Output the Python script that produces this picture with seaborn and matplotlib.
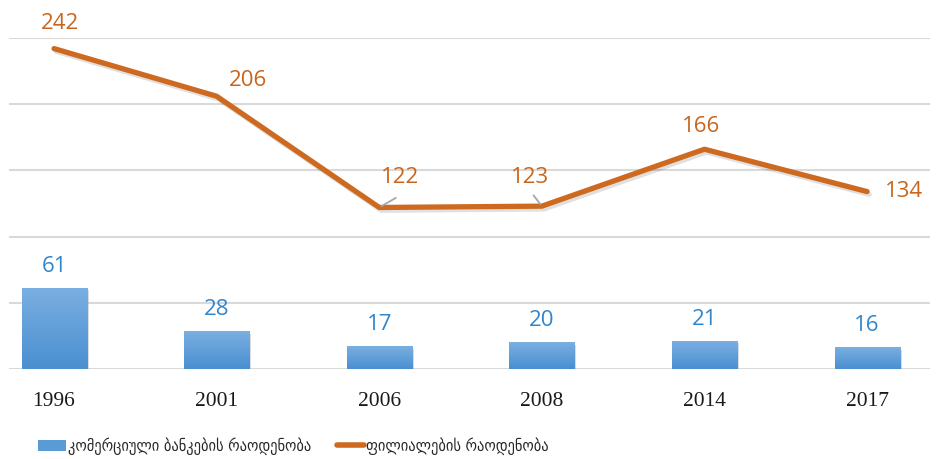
import numpy as np
import pandas as pd
import seaborn as sns
import matplotlib.pyplot as plt
import matplotlib.patheffects as pe
from matplotlib.colors import LinearSegmentedColormap
from matplotlib.patches import Patch
from matplotlib.lines import Line2D

# dados
anos = ["1996", "2001", "2006", "2008", "2014", "2017"]
bancos = [61, 28, 17, 20, 21, 16]
filiais = [242, 206, 122, 123, 166, 134]
nome_bancos = "კომერციული ბანკების რაოდენობა"
nome_filiais = "ფილიალების რაოდენობა"

cor_barra = "#5B9BD5"
cor_linha = "#CD6A1F"
cor_txt_barra = "#2F86CC"
cor_txt_linha = "#C8651B"

df = pd.DataFrame({"ano": anos, "bancos": bancos, "filiais": filiais})
df["pos"] = np.arange(len(anos))

sns.set_style("white")
fig = plt.figure(figsize=(9.36, 4.59), dpi=100)
ax = fig.add_axes([9 / 936, 90 / 459, 921 / 936, 331 / 459])

sns.barplot(data=df, x="ano", y="bancos", color=cor_barra, width=0.4,
            saturation=1, ax=ax, zorder=3)

# gradiente nas barras
cmap = LinearSegmentedColormap.from_list("azul", ["#4A8FD1", "#7AAFE1"])
grad = np.linspace(0, 1, 100).reshape(-1, 1)
for p in ax.patches:
    x0, w, h = p.get_x(), p.get_width(), p.get_height()
    p.set_path_effects([pe.SimplePatchShadow(offset=(1.5, -1.5), alpha=0.2), pe.Normal()])
    ax.imshow(grad, extent=[x0, x0 + w, 0, h], origin="lower", cmap=cmap,
              aspect="auto", zorder=3.5, interpolation="bilinear")

sns.lineplot(data=df, x="pos", y="filiais", color=cor_linha, linewidth=3.8,
             sort=False, ax=ax, zorder=4,
             path_effects=[pe.SimpleLineShadow(offset=(1.5, -2), alpha=0.12), pe.Normal()])

# rótulos das barras
for i, v in enumerate(bancos):
    ax.annotate(str(v), (i, v), xytext=(0, 22), textcoords="offset pixels",
                ha="center", va="center", fontsize=16, family="Open Sans",
                color=cor_txt_barra, zorder=6)

# rótulos da linha (offsets em pixels)
offs = [(6, 25), (31, 16), (21, 30), (-12, 29), (-3, 23), (37, 0)]
for i, v in enumerate(filiais):
    ax.annotate(str(v), (i, v), xytext=offs[i], textcoords="offset pixels",
                ha="center", va="center", fontsize=16, family="Open Sans",
                color=cor_txt_linha, zorder=6, annotation_clip=False)

# linhas de ligação 122 e 123
for i, (dx, dy) in [(2, (19, 11)), (3, (-10, 13))]:
    ax.annotate("", (i, filiais[i]), xytext=(dx, dy), textcoords="offset pixels",
                arrowprops=dict(arrowstyle="-", color="#A6A6A6", lw=1.3), zorder=5)

ax.set_ylim(0, 250)
ax.set_xlim(-0.277, 5.387)
ax.set_yticks(np.arange(0, 251, 50))
ax.yaxis.grid(True, color="#D9D9D9", lw=1.5, zorder=0)
ax.set_axisbelow(True)
ax.tick_params(axis="y", left=False, labelleft=False)
ax.tick_params(axis="x", bottom=False, pad=13)
ax.set_xticks(df["pos"])
ax.set_xticklabels(anos, family="Liberation Serif", fontsize=15.5, color="#1a1a1a")
ax.set_xlabel("")
ax.set_ylabel("")
for s in ax.spines.values():
    s.set_visible(False)

handles = [Patch(facecolor=cor_barra, edgecolor="none"),
           Line2D([0], [0], color=cor_linha, lw=4)]
fig.legend(handles, [nome_bancos, nome_filiais], loc="center left",
           bbox_to_anchor=(24 / 936, 1 - 446 / 459), ncol=2, frameon=False,
           prop={"family": "DejaVu Sans", "size": 11.5, "stretch": "condensed"},
           handlelength=1.7, handletextpad=0.15, columnspacing=1.6)

fig.savefig("out.png", dpi=100)
